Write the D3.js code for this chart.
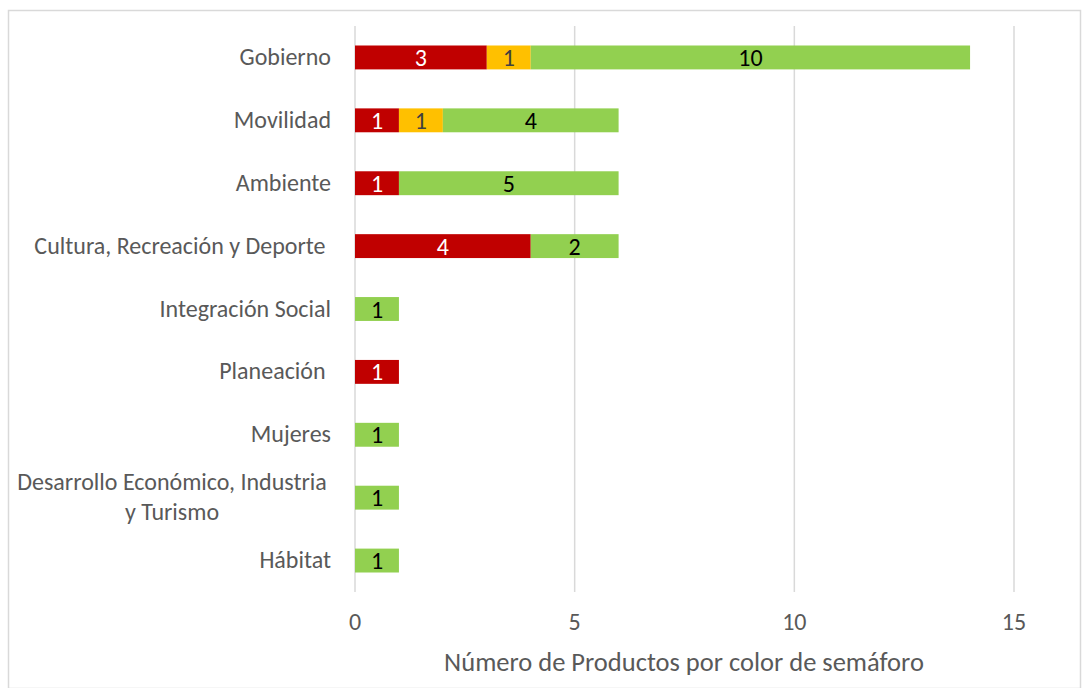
<!DOCTYPE html>
<html>
<head>
<meta charset="utf-8">
<script src="https://cdn.jsdelivr.net/npm/d3@7"></script>
<style>
  body { margin: 0; background: #fff; }
  svg { display: block; font-family: Carlito, Calibri, Lato, sans-serif; }
</style>
</head>
<body>
<svg id="chart" width="1082" height="688"></svg>
<script>
// categorias (de arriba hacia abajo)
const categorias = ['Gobierno', 'Movilidad', 'Ambiente', 'Cultura, Recreación y Deporte ', 'Integración Social',
  'Planeación ', 'Mujeres', 'Desarrollo Económico, Industria y Turismo', 'Hábitat']
const rojo = [3, 1, 1, 4, 0, 1, 0, 0, 0]
const amarillo = [1, 1, 0, 0, 0, 0, 0, 0, 0]
const verde = [10, 4, 5, 2, 1, 0, 1, 1, 1]
const ticksX = [0, 5, 10, 15]
const tituloX = 'Número de Productos por color de semáforo'

const series = [
  { key: 'rojo', valores: rojo, color: '#C00000', texto: '#FFFFFF' },
  { key: 'amarillo', valores: amarillo, color: '#FFC000', texto: '#404040' },
  { key: 'verde', valores: verde, color: '#92D050', texto: '#000000' }
]

const svg = d3.select('#chart')
const margen = { izq: 355, der: 68, arriba: 26, abajo: 96 }
const W = 1082, H = 688
const FUENTE = 24

//Borde del grafico
svg.append('rect').attr('x', 8.5).attr('y', 10.5).attr('width', W - 10).attr('height', H - 10)
  .attr('fill', 'none').attr('stroke', '#d9d9d9').attr('stroke-width', 1.5)

const x = d3.scaleLinear().domain([0, 15]).range([margen.izq, W - margen.der])
const y = d3.scaleBand().domain(categorias).range([margen.arriba, H - margen.abajo]).paddingInner(0.62).paddingOuter(0.31)

//Lineas de cuadricula
svg.append('g').selectAll('line').data(ticksX.slice(1)).join('line')
  .attr('x1', d => x(d)).attr('x2', d => x(d))
  .attr('y1', margen.arriba).attr('y2', H - margen.abajo)
  .attr('stroke', '#d9d9d9').attr('stroke-width', 1.5)

//Eje vertical
svg.append('line').attr('x1', x(0)).attr('x2', x(0)).attr('y1', margen.arriba).attr('y2', H - margen.abajo)
  .attr('stroke', '#d9d9d9').attr('stroke-width', 1.5)

//Barras apiladas
const datos = categorias.map((c, i) => {
  const o = { cat: c }
  series.forEach(s => o[s.key] = s.valores[i])
  return o
})
const pila = d3.stack().keys(series.map(s => s.key))(datos)

pila.forEach((capa, si) => {
  const s = series[si]
  const g = svg.append('g')
  const seg = capa.map(d => ({ x0: d[0], x1: d[1], cat: d.data.cat, v: d.data[s.key] })).filter(d => d.v > 0)
  g.selectAll('rect').data(seg).join('rect')
    .attr('x', d => x(d.x0)).attr('width', d => x(d.x1) - x(d.x0))
    .attr('y', d => y(d.cat)).attr('height', y.bandwidth())
    .attr('fill', s.color)
  g.selectAll('text').data(seg).join('text')
    .attr('x', d => (x(d.x0) + x(d.x1)) / 2).attr('y', d => y(d.cat) + y.bandwidth() / 2)
    .attr('text-anchor', 'middle').attr('dominant-baseline', 'central')
    .attr('font-size', FUENTE).attr('fill', s.texto)
    .text(d => d.v)
})

//Etiquetas de categorias
categorias.forEach(c => {
  const cy = y(c) + y.bandwidth() / 2 - 1
  if (c.startsWith('Desarrollo')) {
    const t = svg.append('text').attr('text-anchor', 'middle').attr('font-size', FUENTE).attr('fill', '#595959')
    t.append('tspan').attr('x', 172).attr('y', cy - 15).attr('dominant-baseline', 'central').text('Desarrollo Económico, Industria')
    t.append('tspan').attr('x', 172).attr('y', cy + 15).attr('dominant-baseline', 'central').text('y Turismo')
  } else {
    svg.append('text').attr('x', 331).attr('y', cy).attr('text-anchor', 'end').attr('dominant-baseline', 'central')
      .attr('font-size', FUENTE).attr('fill', '#595959').attr('xml:space', 'preserve').style('white-space', 'pre').text(c)
  }
})

//Etiquetas del eje X
svg.append('g').selectAll('text').data(ticksX).join('text')
  .attr('x', d => x(d)).attr('y', 621).attr('text-anchor', 'middle').attr('dominant-baseline', 'central')
  .attr('font-size', FUENTE).attr('fill', '#595959').text(d => d)

//Titulo del eje
svg.append('text').attr('x', 684).attr('y', 662).attr('text-anchor', 'middle').attr('dominant-baseline', 'central')
  .attr('font-size', 26.5).attr('fill', '#595959').text(tituloX)
</script>
</body>
</html>
